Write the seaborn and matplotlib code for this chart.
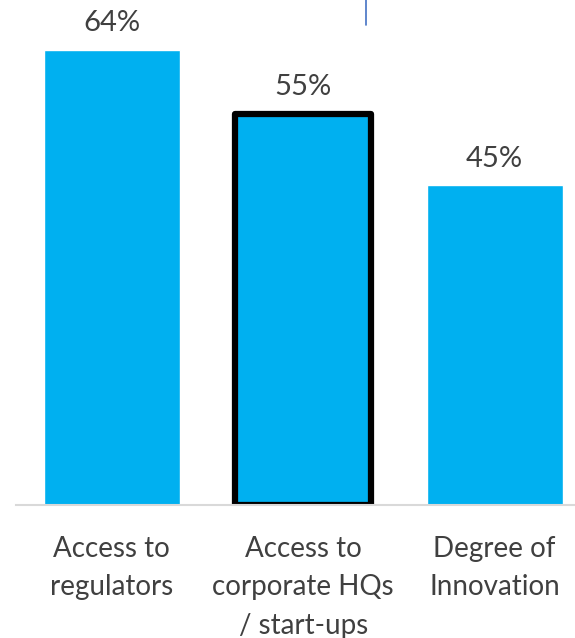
import matplotlib
matplotlib.use("Agg")
import matplotlib.pyplot as plt
import seaborn as sns
import pandas as pd

# chart data
categories = ["Access to\nregulators", "Access to\ncorporate HQs\n/ start-ups", "Degree of\nInnovation"]
values = [64, 55, 45]
value_labels = ["64%", "55%", "45%"]

BAR_COLOR = "#00B0F0"
TEXT_COLOR = "#404040"

sns.set_style("white")
plt.rcParams["font.family"] = ["Lato", "DejaVu Sans"]

df = pd.DataFrame({"Category": categories, "Value": values})

fig = plt.figure(figsize=(5.75, 6.38), dpi=100)
ax = fig.add_axes([16 / 575, 133 / 638, 1 - 16 / 575, 505 / 638])

sns.barplot(data=df, x="Category", y="Value", color=BAR_COLOR, saturation=1,
            width=0.71, ax=ax)

# highlight the middle bar
mid = ax.patches[1]
mid.set_edgecolor("black")
mid.set_linewidth(4.5)
mid.set_joinstyle("round")

for i, (v, lab) in enumerate(zip(values, value_labels)):
    ax.text(i, v + 3.7, lab, ha="center", va="center", fontsize=21, color=TEXT_COLOR)

ax.set_xlim(-0.5, 2.42)
ax.set_ylim(0, 71.0)
ax.set_yticks([])
ax.set_xlabel("")
ax.set_ylabel("")
for s in ["top", "right", "left"]:
    ax.spines[s].set_visible(False)
ax.spines["bottom"].set_color("#D9D9D9")
ax.spines["bottom"].set_linewidth(1.5)
ax.tick_params(axis="x", length=0, pad=22, labelsize=20, labelcolor=TEXT_COLOR)
for t in ax.get_xticklabels():
    t.set_linespacing(1.6)
    t.set_va("top")

# small blue marker line at top
ax.plot([1.326, 1.326], [67.5, 71.0], color="#4472C4", linewidth=1.2, clip_on=False)

fig.savefig("out.png", dpi=100)
